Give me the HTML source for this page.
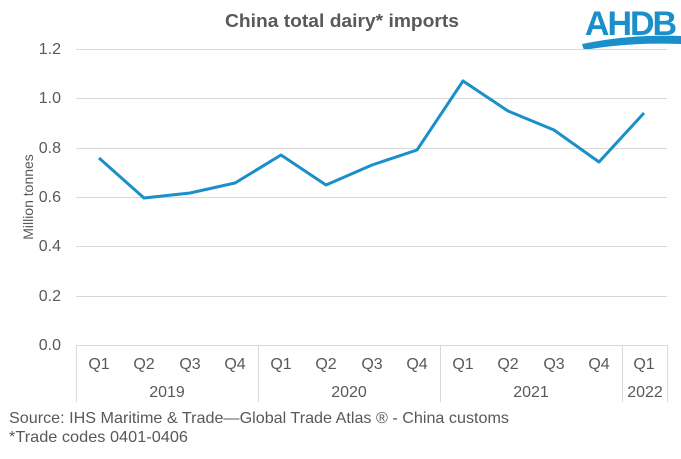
<!DOCTYPE html><html><head><style>body{margin:0;background:#fff}</style></head><body>
<svg width="681" height="454" xmlns="http://www.w3.org/2000/svg" font-family="Liberation Sans, sans-serif">
<text x="225" y="27" textLength="234" lengthAdjust="spacingAndGlyphs" font-size="18" font-weight="bold" fill="#595959">China total dairy* imports</text>
<text x="630" y="35" text-anchor="middle" font-size="34" font-weight="bold" fill="#1a8fc9" letter-spacing="-2">AHDB</text>
<path d="M582 44 Q630 34 681 36 L681 44 Q630 42 584 50 Z" fill="#1a8fc9"/>
<g stroke="#d9d9d9" stroke-width="1">
<line x1="76" x2="667" y1="49.5" y2="49.5"/><line x1="76" x2="667" y1="98.5" y2="98.5"/><line x1="76" x2="667" y1="148.5" y2="148.5"/><line x1="76" x2="667" y1="197.5" y2="197.5"/><line x1="76" x2="667" y1="246.5" y2="246.5"/><line x1="76" x2="667" y1="296.5" y2="296.5"/><line x1="76" x2="667" y1="345.5" y2="345.5"/>
<line x1="76.5" x2="76.5" y1="345" y2="402"/><line x1="258.5" x2="258.5" y1="345" y2="402"/><line x1="440.5" x2="440.5" y1="345" y2="402"/><line x1="622.5" x2="622.5" y1="345" y2="402"/><line x1="667.5" x2="667.5" y1="345" y2="402"/>
</g>
<g font-size="16" fill="#595959" text-anchor="end">
<text x="61" y="54">1.2</text><text x="61" y="103">1.0</text><text x="61" y="153">0.8</text><text x="61" y="202">0.6</text><text x="61" y="251">0.4</text><text x="61" y="301">0.2</text><text x="61" y="350">0.0</text>
</g>
<text transform="translate(33,197) rotate(-90)" text-anchor="middle" font-size="14" fill="#595959">Million tonnes</text>
<g font-size="16" fill="#595959" text-anchor="middle">
<text x="99" y="369">Q1</text><text x="144" y="369">Q2</text><text x="190" y="369">Q3</text><text x="235" y="369">Q4</text>
<text x="281" y="369">Q1</text><text x="326" y="369">Q2</text><text x="372" y="369">Q3</text><text x="417" y="369">Q4</text>
<text x="463" y="369">Q1</text><text x="508" y="369">Q2</text><text x="554" y="369">Q3</text><text x="599" y="369">Q4</text><text x="644" y="369">Q1</text>
<text x="167" y="397">2019</text><text x="349" y="397">2020</text><text x="531" y="397">2021</text><text x="645" y="397">2022</text>
</g>
<polyline fill="none" stroke="#1a8fc9" stroke-width="3" stroke-linejoin="round" points="99,158 144,198 190,193 235,183 281,155 326,185 372,165 417,150 463,81 508,111 554,130 599,162 644,113"/>
<g font-size="16" fill="#595959">
<text x="9" y="423" textLength="500" lengthAdjust="spacingAndGlyphs">Source: IHS Maritime &amp; Trade—Global Trade Atlas ® - China customs</text>
<text x="9" y="442" textLength="179" lengthAdjust="spacingAndGlyphs">*Trade codes 0401-0406</text>
</g>
</svg>
</body></html>
